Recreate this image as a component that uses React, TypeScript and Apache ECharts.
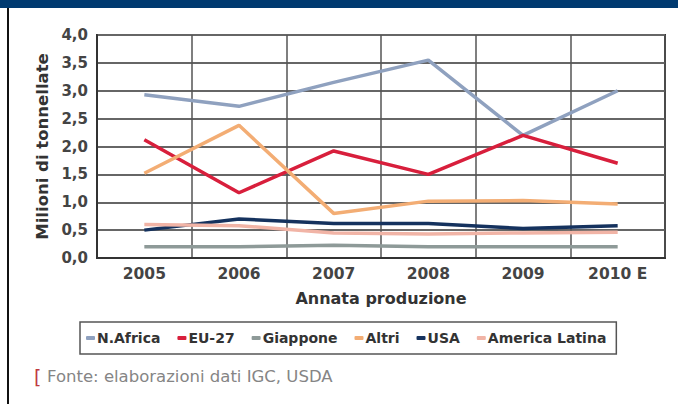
import React, { useEffect, useRef } from "react";
import * as echarts from "echarts";

const years = ["2005", "2006", "2007", "2008", "2009", "2010 E"];
const nAfrica = [2.93, 2.72, 3.15, 3.55, 2.2, 3.0];
const eu27 = [2.12, 1.17, 1.92, 1.5, 2.2, 1.7];
const giappone = [0.2, 0.2, 0.23, 0.2, 0.2, 0.2];
const altri = [1.52, 2.38, 0.8, 1.02, 1.03, 0.97];
const usa = [0.5, 0.7, 0.62, 0.62, 0.53, 0.58];
const americaLatina = [0.6, 0.58, 0.45, 0.43, 0.45, 0.46];

const seriesNames = ["N.Africa", "EU-27", "Giappone", "Altri", "USA", "America Latina"];
const seriesData = [nAfrica, eu27, giappone, altri, usa, americaLatina];
const seriesColors = ["#8fa1bf", "#d81f3c", "#8e9a98", "#f3ad74", "#15325e", "#f1b4a6"];

const FONT = "'DejaVu Sans', sans-serif";

export default function App() {
  const ref = useRef<HTMLDivElement>(null);
  useEffect(() => {
    document.body.style.margin = "0";
    const chart = echarts.init(ref.current!, undefined, { renderer: "svg" });
    chart.setOption({
      animation: false,
      backgroundColor: "#ffffff",
      grid: {
        left: 97,
        top: 35,
        right: 13,
        bottom: 146,
        show: true,
        borderColor: "#333",
        borderWidth: 2,
        backgroundColor: "transparent",
      },
      xAxis: {
        type: "category",
        data: years,
        boundaryGap: true,
        name: "Annata produzione",
        nameLocation: "middle",
        nameGap: 32,
        nameTextStyle: { fontFamily: FONT, fontWeight: "bold", fontSize: 16, color: "#333" },
        axisLine: { show: true, lineStyle: { color: "#333", width: 2 } },
        axisTick: { show: false },
        axisLabel: { fontFamily: FONT, fontWeight: "bold", fontSize: 15.5, color: "#444", margin: 8 },
        splitLine: { show: true, lineStyle: { color: "#555", width: 1.5 } },
      },
      yAxis: {
        type: "value",
        min: 0,
        max: 4,
        interval: 0.5,
        name: "Milioni di tonnellate",
        nameLocation: "middle",
        nameRotate: 90,
        nameGap: 44,
        nameTextStyle: { fontFamily: FONT, fontWeight: "bold", fontSize: 16.5, color: "#333" },
        axisLine: { show: true, lineStyle: { color: "#333", width: 2 } },
        axisTick: { show: false },
        axisLabel: {
          fontFamily: FONT,
          fontWeight: "bold",
          fontSize: 15,
          color: "#444",
          margin: 9,
          formatter: (v: number) => v.toFixed(1).replace(".", ","),
        },
        splitLine: { show: true, lineStyle: { color: "#666", width: 2 } },
      },
      legend: {
        data: seriesNames,
        left: 80,
        top: 322,
        orient: "horizontal",
        borderColor: "#555",
        borderWidth: 1.5,
        padding: [9, 10, 9, 6],
        itemGap: 17,
        itemWidth: 9,
        itemHeight: 4,
        icon: "roundRect",
        textStyle: { fontFamily: FONT, fontWeight: "bold", fontSize: 14, color: "#333", padding: [0, 0, 0, -3] },
      },
      graphic: [
        { type: "rect", shape: { x: 0, y: 0, width: 678, height: 8 }, style: { fill: "#003a70" } },
        { type: "rect", shape: { x: 7, y: 8, width: 2, height: 396 }, style: { fill: "#111" } },
        {
          type: "text",
          x: 34,
          y: 367,
          style: { text: "[", fill: "#c0393e", font: "19px 'DejaVu Sans', sans-serif" },
        },
        {
          type: "text",
          x: 47,
          y: 368,
          style: { text: "Fonte: elaborazioni dati IGC, USDA", fill: "#858585", font: "16.5px 'DejaVu Sans', sans-serif" },
        },
      ],
      series: seriesNames.map((n, i) => ({
        name: n,
        type: "line",
        data: seriesData[i],
        symbol: "none",
        lineStyle: { color: seriesColors[i], width: 3.5 },
        itemStyle: { color: seriesColors[i] },
      })),
    });
    return () => chart.dispose();
  }, []);
  return <div ref={ref} style={{ width: 678, height: 404 }} />;
}
